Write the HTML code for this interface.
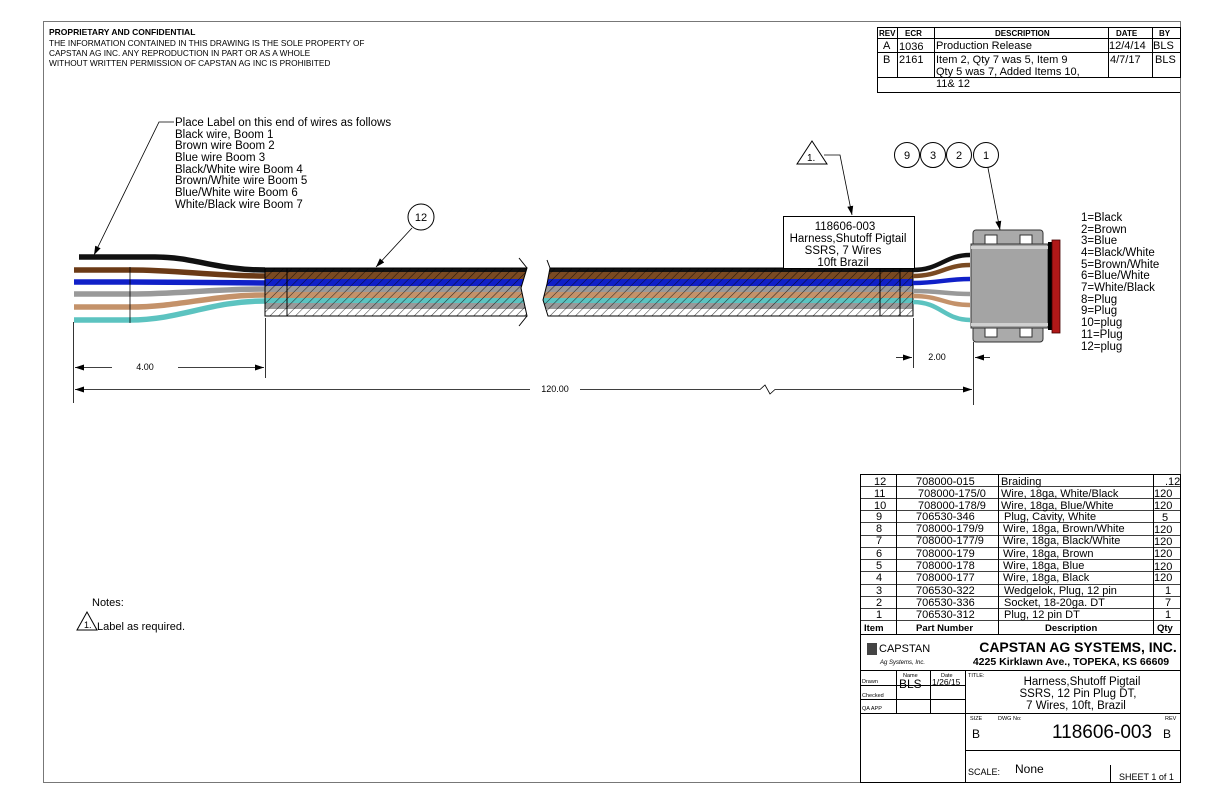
<!DOCTYPE html>
<html><head><meta charset="utf-8"><style>
html,body{margin:0;padding:0;background:#fff}
svg{display:block}
text{font-family:"Liberation Sans",sans-serif;fill:#000}
</style></head><body>
<svg width="1224" height="792" viewBox="0 0 1224 792" xmlns="http://www.w3.org/2000/svg">
<defs>
<pattern id="h" width="6" height="6" patternUnits="userSpaceOnUse" patternTransform="rotate(45)">
<line x1="0" y1="0" x2="0" y2="6" stroke="#000" stroke-width="1.1" opacity="0.75"/>
</pattern>
<marker id="ar" markerWidth="10" markerHeight="8" refX="9" refY="4" orient="auto" markerUnits="userSpaceOnUse">
<path d="M0,1 L9,4 L0,7 z" fill="#000"/></marker>
</defs>
<rect x="43.5" y="21.5" width="1137" height="761" fill="none" stroke="#777" stroke-width="1"/>

<!-- header text -->
<text x="49" y="35" font-size="8.5" font-weight="bold">PROPRIETARY AND CONFIDENTIAL</text>
<text x="49" y="46" font-size="8.3">THE INFORMATION CONTAINED IN THIS DRAWING IS THE SOLE PROPERTY OF</text>
<text x="49" y="56" font-size="8.3">CAPSTAN AG INC. ANY REPRODUCTION IN PART OR AS A WHOLE</text>
<text x="49" y="66" font-size="8.3">WITHOUT WRITTEN PERMISSION OF CAPSTAN AG INC IS PROHIBITED</text>

<!-- rev table -->
<g stroke="#000" stroke-width="1" fill="none">
<rect x="877.5" y="27.5" width="303" height="50"/>
<line x1="877" y1="38.5" x2="1180" y2="38.5"/>
<line x1="877" y1="52.5" x2="1180" y2="52.5"/>
<line x1="897.5" y1="27" x2="897.5" y2="78"/>
<line x1="934.5" y1="27" x2="934.5" y2="78"/>
<line x1="1108.5" y1="27" x2="1108.5" y2="78"/>
<line x1="1152.5" y1="27" x2="1152.5" y2="78"/>
<line x1="877.5" y1="78" x2="877.5" y2="92"/>
<line x1="877" y1="92.5" x2="1180" y2="92.5"/>
</g>
<g font-size="8" font-weight="bold">
<text x="879" y="36">REV</text><text x="905" y="36">ECR</text><text x="995" y="36">DESCRIPTION</text><text x="1116" y="36">DATE</text><text x="1159" y="36">BY</text>
</g>
<g font-size="11">
<text x="883" y="49">A</text><text x="899" y="50">1036</text><text x="936" y="49">Production Release</text><text x="1109" y="49">12/4/14</text><text x="1153" y="49">BLS</text>
<text x="883" y="63">B</text><text x="899" y="63">2161</text><text x="936" y="63">Item 2, Qty 7 was 5, Item 9</text><text x="1110" y="63">4/7/17</text><text x="1155" y="63">BLS</text>
<text x="936" y="75">Qty 5 was 7, Added Items 10,</text><text x="936" y="87">11&amp; 12</text>
</g>

<!-- left label text -->
<g font-size="11.5">
<text x="175" y="126">Place Label on this end of wires as follows</text>
<text x="175" y="138">Black wire, Boom 1</text>
<text x="175" y="149">Brown wire Boom 2</text>
<text x="175" y="161">Blue wire Boom 3</text>
<text x="175" y="173">Black/White wire Boom 4</text>
<text x="175" y="184">Brown/White wire Boom 5</text>
<text x="175" y="196">Blue/White wire Boom 6</text>
<text x="175" y="208">White/Black wire Boom 7</text>
</g>
<polyline points="174,122 159,122 94,255" fill="none" stroke="#000" stroke-width="0.8" marker-end="url(#ar)"/>

<!-- left fan wires -->
<g fill="none" stroke-width="5.5">
<path d="M79,257 L155,257 C195,257 215,270 265,270" stroke="#111"/>
<path d="M74,270 L130,270 C180,270 210,276 265,276" stroke="#6b3a16"/>
<path d="M74,282 L130,282 C180,282 210,283 265,283" stroke="#1020c8"/>
<path d="M74,294 L130,294 C180,294 210,289 265,289" stroke="#999"/>
<path d="M74,307 L130,307 C180,307 210,295 265,295" stroke="#c4926a"/>
<path d="M74,320 L130,320 C180,320 210,301 265,301" stroke="#5cc3c0"/>
</g>
<g stroke="#000" stroke-width="0.8"><line x1="130" y1="267" x2="130" y2="323"/></g>

<!-- bundle -->
<g>
<clipPath id="b1"><path d="M265,268 L527,268 L521,288 L527,316 L265,316 Z"/></clipPath>
<clipPath id="b2"><path d="M550,268 L913,268 L913,316 L548,316 L543,300 L547,284 Z"/></clipPath>
<g clip-path="url(#b1)" id="bund">
<rect x="260" y="267" width="670" height="5" fill="#111"/>
<rect x="260" y="272" width="670" height="7" fill="#7a4a22"/>
<rect x="260" y="279" width="670" height="7" fill="#1020c8"/>
<rect x="260" y="286" width="670" height="6" fill="#999"/>
<rect x="260" y="292" width="670" height="6" fill="#c4926a"/>
<rect x="260" y="298" width="670" height="5" fill="#5cc3c0"/>
<rect x="260" y="303" width="670" height="6" fill="#999"/>
<rect x="260" y="309" width="670" height="7" fill="#fff"/>
<rect x="260" y="267" width="670" height="50" fill="url(#h)"/>
</g>
<g clip-path="url(#b2)">
<rect x="540" y="267" width="380" height="5" fill="#111"/>
<rect x="540" y="272" width="380" height="7" fill="#7a4a22"/>
<rect x="540" y="279" width="380" height="7" fill="#1020c8"/>
<rect x="540" y="286" width="380" height="6" fill="#999"/>
<rect x="540" y="292" width="380" height="6" fill="#c4926a"/>
<rect x="540" y="298" width="380" height="5" fill="#5cc3c0"/>
<rect x="540" y="303" width="380" height="6" fill="#999"/>
<rect x="540" y="309" width="380" height="7" fill="#fff"/>
<rect x="540" y="267" width="380" height="50" fill="url(#h)"/>
</g>
<g fill="none" stroke="#000" stroke-width="1">
<path d="M265,268 L527,268 L521,288 L527,316 L265,316 Z"/>
<path d="M550,268 L913,268 L913,316 L548,316 L543,300 L547,284 Z"/>
<line x1="287" y1="268" x2="287" y2="316"/>
<line x1="880" y1="268" x2="880" y2="316"/><line x1="900" y1="268" x2="900" y2="316"/>
<line x1="519" y1="258" x2="527" y2="268"/><line x1="519" y1="326" x2="527" y2="316"/>
<line x1="547" y1="260" x2="550" y2="268"/>
</g>
</g>

<!-- right fan wires -->
<g fill="none" stroke-width="4.5">
<path d="M913,270 C940,270 945,255 970,255" stroke="#111"/>
<path d="M913,276 C940,276 945,265 970,265" stroke="#7a4a22"/>
<path d="M913,283 C940,283 945,279 970,279" stroke="#1020c8"/>
<path d="M913,291 C940,291 945,294 970,294" stroke="#999"/>
<path d="M913,296 C940,296 945,305 970,305" stroke="#c4926a"/>
<path d="M913,302 C940,302 945,320 970,320" stroke="#5cc3c0"/>
</g>

<!-- connector -->
<g stroke="#333" stroke-width="1">
<rect x="973" y="230" width="70" height="16" rx="3" fill="#aaa"/>
<rect x="973" y="326" width="70" height="16" rx="3" fill="#aaa"/>
<rect x="985" y="235" width="12" height="10" fill="#fff"/>
<rect x="1020" y="235" width="12" height="10" fill="#fff"/>
<rect x="985" y="327" width="12" height="10" fill="#fff"/>
<rect x="1020" y="327" width="12" height="10" fill="#fff"/>
<rect x="971" y="244" width="77" height="84" fill="#a4a4a4"/>
</g>
<rect x="971" y="246" width="77" height="3" fill="#d0d0d0"/>
<rect x="971" y="323" width="77" height="3" fill="#d0d0d0"/>
<rect x="1048" y="242" width="4" height="88" fill="#000"/>
<rect x="1052" y="240" width="8" height="93" fill="#b01818" stroke="#400" stroke-width="0.8"/>

<!-- pin list -->
<g font-size="11.5">
<text x="1081" y="221">1=Black</text><text x="1081" y="233">2=Brown</text><text x="1081" y="244">3=Blue</text>
<text x="1081" y="256">4=Black/White</text><text x="1081" y="268">5=Brown/White</text><text x="1081" y="279">6=Blue/White</text>
<text x="1081" y="291">7=White/Black</text><text x="1081" y="303">8=Plug</text><text x="1081" y="314">9=Plug</text>
<text x="1081" y="326">10=plug</text><text x="1081" y="338">11=Plug</text><text x="1081" y="350">12=plug</text>
</g>

<!-- label box -->
<rect x="783.5" y="216.5" width="131" height="52" fill="#fff" stroke="#000"/>
<g font-size="11.5" text-anchor="middle">
<text x="845" y="230">118606-003</text><text x="848" y="242">Harness,Shutoff Pigtail</text>
<text x="843" y="254">SSRS, 7 Wires</text><text x="843" y="266">10ft Brazil</text>
</g>
<polygon points="812,141 797,164 827,164" fill="#fff" stroke="#000"/>
<text x="807" y="161" font-size="10">1.</text>
<polyline points="824,155 840,155 852,215" fill="none" stroke="#000" stroke-width="0.8" marker-end="url(#ar)"/>

<!-- balloons -->
<g fill="#fff" stroke="#000">
<circle cx="421" cy="217" r="13"/>
<circle cx="907" cy="155" r="12.5"/><circle cx="933" cy="155" r="12.5"/><circle cx="959" cy="155" r="12.5"/><circle cx="986" cy="155" r="12.5"/>
</g>
<g font-size="11" text-anchor="middle">
<text x="421" y="221">12</text><text x="907" y="159">9</text><text x="933" y="159">3</text><text x="959" y="159">2</text><text x="986" y="159">1</text>
</g>
<line x1="412" y1="228" x2="376" y2="267" stroke="#000" stroke-width="0.8" marker-end="url(#ar)"/>
<line x1="988" y1="168" x2="1000" y2="230" stroke="#000" stroke-width="0.8" marker-end="url(#ar)"/>

<!-- dimensions -->
<g stroke="#000" stroke-width="0.8" fill="none">
<line x1="73.5" y1="322" x2="73.5" y2="403"/>
<line x1="265.5" y1="318" x2="265.5" y2="378"/>
<line x1="913.5" y1="318" x2="913.5" y2="368"/>
<line x1="973.5" y1="342" x2="973.5" y2="405"/>
<line x1="112" y1="367.5" x2="75" y2="367.5" marker-end="url(#ar)"/>
<line x1="178" y1="367.5" x2="264" y2="367.5" marker-end="url(#ar)"/>
<line x1="530" y1="389.5" x2="75" y2="389.5" marker-end="url(#ar)"/>
<polyline points="580,389.5 760,389.5 765,385 770,394 775,389.5 972,389.5" marker-end="url(#ar)"/>
<line x1="896" y1="357.5" x2="912" y2="357.5" marker-end="url(#ar)"/>
<line x1="990" y1="357.5" x2="975" y2="357.5" marker-end="url(#ar)"/>
</g>
<g font-size="9" text-anchor="middle">
<text x="145" y="370">4.00</text><text x="555" y="392">120.00</text><text x="937" y="360">2.00</text>
</g>

<!-- notes -->
<text x="92" y="606" font-size="11">Notes:</text>
<polygon points="87,612 77,630 97,630" fill="#fff" stroke="#000"/>
<text x="84" y="628" font-size="9">1.</text>
<text x="97" y="630" font-size="11">Label as required.</text>

<!-- parts list -->
<g stroke="#000" stroke-width="1" fill="none">
<rect x="860.5" y="474.5" width="320" height="308"/>
<line x1="896.5" y1="474" x2="896.5" y2="634"/>
<line x1="998.5" y1="474" x2="998.5" y2="634"/>
<line x1="1153.5" y1="474" x2="1153.5" y2="634"/>
<line x1="860" y1="634.5" x2="1180" y2="634.5"/>
<line x1="860" y1="670.5" x2="1180" y2="670.5"/>
<line x1="860" y1="713.5" x2="1180" y2="713.5"/>
<line x1="965.5" y1="670" x2="965.5" y2="782"/>
<line x1="965" y1="750.5" x2="1180" y2="750.5"/>
<line x1="896.5" y1="670" x2="896.5" y2="713"/>
<line x1="930.5" y1="670" x2="930.5" y2="713"/>
<line x1="860" y1="685.5" x2="965" y2="685.5"/>
<line x1="860" y1="699.5" x2="965" y2="699.5"/>
<line x1="1110.5" y1="765" x2="1110.5" y2="782"/>
</g>
<g stroke="#000" stroke-width="0.8">
<line x1="860" y1="486.5" x2="1180" y2="486.5"/><line x1="860" y1="498.5" x2="1180" y2="498.5"/>
<line x1="860" y1="510.5" x2="1180" y2="510.5"/><line x1="860" y1="522.5" x2="1180" y2="522.5"/>
<line x1="860" y1="535.5" x2="1180" y2="535.5"/><line x1="860" y1="547.5" x2="1180" y2="547.5"/>
<line x1="860" y1="559.5" x2="1180" y2="559.5"/><line x1="860" y1="571.5" x2="1180" y2="571.5"/>
<line x1="860" y1="584.5" x2="1180" y2="584.5"/><line x1="860" y1="596.5" x2="1180" y2="596.5"/>
<line x1="860" y1="608.5" x2="1180" y2="608.5"/><line x1="860" y1="620.5" x2="1180" y2="620.5"/>
</g>
<g font-size="11">
<text x="874" y="485">12</text><text x="916" y="485">708000-015</text><text x="1001" y="485">Braiding</text><text x="1165" y="485">.12</text>
<text x="874" y="497">11</text><text x="918" y="497">708000-175/0</text><text x="1001" y="497">Wire, 18ga, White/Black</text><text x="1154" y="497">120</text>
<text x="874" y="509">10</text><text x="918" y="509">708000-178/9</text><text x="1001" y="509">Wire, 18ga, Blue/White</text><text x="1154" y="509">120</text>
<text x="876" y="520">9</text><text x="916" y="520">706530-346</text><text x="1004" y="520">Plug, Cavity, White</text><text x="1162" y="521">5</text>
<text x="876" y="532">8</text><text x="916" y="532">708000-179/9</text><text x="1003" y="532">Wire, 18ga, Brown/White</text><text x="1154" y="533">120</text>
<text x="876" y="544">7</text><text x="916" y="544">708000-177/9</text><text x="1003" y="544">Wire, 18ga, Black/White</text><text x="1154" y="545">120</text>
<text x="876" y="557">6</text><text x="916" y="557">708000-179</text><text x="1003" y="557">Wire, 18ga, Brown</text><text x="1154" y="557">120</text>
<text x="876" y="569">5</text><text x="916" y="569">708000-178</text><text x="1003" y="569">Wire, 18ga, Blue</text><text x="1154" y="570">120</text>
<text x="876" y="581">4</text><text x="916" y="581">708000-177</text><text x="1003" y="581">Wire, 18ga, Black</text><text x="1154" y="581">120</text>
<text x="876" y="594">3</text><text x="916" y="594">706530-322</text><text x="1004" y="594">Wedgelok, Plug, 12 pin</text><text x="1165" y="594">1</text>
<text x="876" y="606">2</text><text x="916" y="606">706530-336</text><text x="1004" y="606">Socket, 18-20ga. DT</text><text x="1165" y="606">7</text>
<text x="876" y="618">1</text><text x="916" y="618">706530-312</text><text x="1004" y="618">Plug, 12 pin DT</text><text x="1165" y="618">1</text>
</g>
<g font-size="9.5" font-weight="bold" fill="#333">
<text x="864" y="631">Item</text><text x="916" y="631">Part Number</text><text x="1045" y="631">Description</text><text x="1157" y="631">Qty</text>
</g>
<!-- company -->
<rect x="867" y="643" width="10" height="12" fill="#444"/>
<text x="879" y="652" font-size="11" font-family="Liberation Serif">CAPSTAN</text>
<text x="880" y="664" font-size="6" font-family="Liberation Serif" font-style="italic">Ag Systems, Inc.</text>
<text x="1078" y="652" font-size="14" font-weight="bold" text-anchor="middle">CAPSTAN AG SYSTEMS, INC.</text>
<text x="1071" y="665" font-size="10.5" font-weight="bold" text-anchor="middle">4225 Kirklawn Ave., TOPEKA, KS 66609</text>
<g font-size="5.5">
<text x="903" y="677">Name</text><text x="941" y="677">Date</text>
<text x="862" y="683">Drawn</text><text x="862" y="697">Checked</text><text x="862" y="710">QA APP</text>
<text x="968" y="677">TITLE:</text>
<text x="970" y="720">SIZE</text><text x="998" y="720">DWG No:</text><text x="1165" y="720">REV</text>
</g>
<text x="899" y="688" font-size="12">BLS</text><text x="932" y="685" font-size="8.5">1/26/15</text>
<g font-size="11.5" text-anchor="middle">
<text x="1082" y="685">Harness,Shutoff Pigtail</text>
<text x="1078" y="697">SSRS, 12 Pin Plug DT,</text>
<text x="1076" y="709">7 Wires, 10ft, Brazil</text>
</g>
<text x="972" y="738" font-size="12">B</text>
<text x="1052" y="738" font-size="19">118606-003</text>
<text x="1163" y="738" font-size="12">B</text>
<text x="968" y="775" font-size="9">SCALE:</text>
<text x="1015" y="773" font-size="12">None</text>
<text x="1119" y="780" font-size="9">SHEET 1 of 1</text>
</svg>
</body></html>
